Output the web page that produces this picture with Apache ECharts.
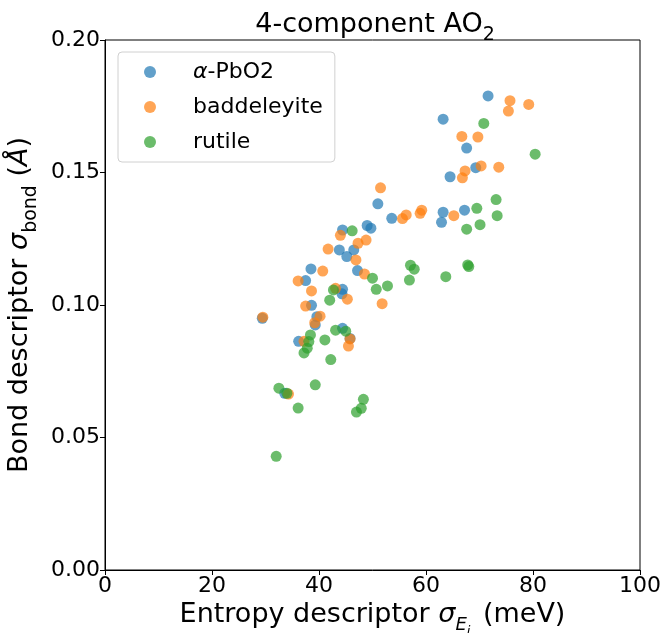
<!DOCTYPE html>
<html>
<head>
<meta charset="utf-8">
<script src="https://cdn.jsdelivr.net/npm/echarts@6/dist/echarts.min.js"></script>
<style>html,body{margin:0;padding:0;background:#fff;}#c{width:663px;height:633px;}</style>
</head>
<body>
<div id="c"></div>
<script>
const seriesNames = ['α-PbO2', 'baddeleyite', 'rutile'];
const xTicks = [0, 20, 40, 60, 80, 100];
const yTicks = [0.00, 0.05, 0.10, 0.15, 0.20];

const pbo2 = [
  [71.6,0.1789],[63.2,0.1701],[67.6,0.1592],[69.3,0.1518],[64.5,0.1484],
  [63.2,0.1350],[62.9,0.1312],[67.2,0.1358],[51.0,0.1382],[53.6,0.1327],
  [49.0,0.1300],[49.7,0.1290],[44.4,0.1283],[43.8,0.1208],[46.5,0.1208],
  [45.2,0.1183],[38.5,0.1136],[47.2,0.1130],[37.5,0.1092],[44.4,0.1059],
  [44.3,0.1042],[38.6,0.0999],[39.6,0.0956],[39.3,0.0925],[29.4,0.0950],
  [44.4,0.0912],[36.2,0.0863],[45.8,0.0874],[33.6,0.0667]
];
const baddeleyite = [
  [75.7,0.1771],[79.2,0.1757],[75.4,0.1732],[66.7,0.1636],[69.7,0.1634],
  [67.3,0.1506],[66.8,0.1480],[70.3,0.1525],[73.6,0.1520],[65.2,0.1337],
  [58.9,0.1346],[59.2,0.1358],[55.6,0.1326],[56.3,0.1340],[51.5,0.1442],
  [44.0,0.1263],[47.3,0.1233],[48.8,0.1245],[41.7,0.1211],[46.9,0.1170],
  [40.7,0.1128],[36.1,0.1091],[48.5,0.1117],[38.6,0.1053],[43.1,0.1063],
  [45.3,0.1022],[51.8,0.1005],[37.5,0.0996],[29.5,0.0954],[40.2,0.0958],
  [39.2,0.0933],[37.2,0.0863],[45.8,0.0872],[45.5,0.0845],[34.3,0.0664]
];
const rutile = [
  [70.8,0.1685],[80.4,0.1569],[73.1,0.1398],[69.5,0.1365],[73.3,0.1337],
  [70.1,0.1303],[67.6,0.1286],[67.8,0.1151],[68.0,0.1145],[63.7,0.1107],
  [46.2,0.1280],[57.1,0.1150],[57.8,0.1135],[56.9,0.1094],[50.0,0.1101],
  [50.7,0.1059],[52.8,0.1072],[42.7,0.1057],[42.0,0.1018],[38.4,0.0887],
  [38.1,0.0862],[37.8,0.0837],[37.2,0.0819],[41.1,0.0868],[43.1,0.0905],
  [45.0,0.0901],[42.2,0.0794],[39.3,0.0699],[32.5,0.0686],[34.0,0.0667],
  [36.1,0.0611],[48.3,0.0644],[47.9,0.0610],[47.0,0.0596],[32.0,0.0429]
];

const colors = ['#1f77b4', '#ff7f0e', '#2ca02c'];
const FONT = 'DejaVu Sans';
const chart = echarts.init(document.getElementById('c'), null, {renderer: 'canvas'});

const mk = (name, data, i) => ({
  name: name, type: 'scatter', data: data, symbol: 'circle', symbolSize: 11,
  itemStyle: {color: colors[i], opacity: 0.7}, z: 2 + i
});

const NS = 27;
chart.setOption({
  animation: false,
  backgroundColor: '#fff',
  textStyle: {fontFamily: FONT},
  title: {
    text: '{m|4-component AO}{s|2}',
    left: 370, top: 1, textAlign: 'center',
    textStyle: {
      fontWeight: 'normal',
      rich: {
        m: {fontFamily: FONT, fontSize: 27, fontWeight: 'normal', color: '#000', verticalAlign: 'bottom', lineHeight: 32},
        s: {fontFamily: FONT, fontSize: 19, fontWeight: 'normal', color: '#000', verticalAlign: 'bottom', lineHeight: 32, padding: [0,0,-7,0]}
      }
    }
  },
  legend: {
    orient: 'vertical', left: 118, top: 52,
    padding: [9, 12, 9, 26],
    itemGap: 13, itemWidth: 12, itemHeight: 12,
    borderColor: '#d0d0d0', borderWidth: 1, borderRadius: 4,
    backgroundColor: 'rgba(255,255,255,0.8)',
    icon: 'circle',
    data: seriesNames,
    formatter: function (n) { return n === 'α-PbO2' ? '{i|α}{t|-PbO2}' : '{t|' + n + '}'; },
    textStyle: {
      fontFamily: FONT, fontSize: 22, color: '#000', lineHeight: 22, padding: [0,0,0,32],
      rich: {
        i: {fontFamily: FONT, fontSize: 22, fontStyle: 'italic', color: '#000'},
        t: {fontFamily: FONT, fontSize: 22, color: '#000'}
      }
    }
  },
  grid: {left: 105, right: 23, top: 40, bottom: 63, containLabel: false, outerBoundsMode: 'none',
         show: true, borderColor: '#000', borderWidth: 1, backgroundColor: 'transparent'},
  xAxis: {
    type: 'value', min: xTicks[0], max: xTicks[xTicks.length-1], interval: 20,
    name: '{t|Entropy descriptor }{g|σ}{e|E}{i|i}{t| (meV)}',
    nameLocation: 'middle', nameGap: 26,
    nameTextStyle: {
      rich: {
        t: {fontFamily: FONT, fontSize: NS, color: '#000', verticalAlign: 'bottom', lineHeight: 32},
        g: {fontFamily: FONT, fontSize: NS, fontStyle: 'italic', color: '#000', verticalAlign: 'bottom', lineHeight: 32},
        e: {fontFamily: FONT, fontSize: 18, fontStyle: 'italic', color: '#000', verticalAlign: 'bottom', lineHeight: 32, padding: [0,0,-5,0]},
        i: {fontFamily: FONT, fontSize: 13, fontStyle: 'italic', color: '#000', verticalAlign: 'bottom', lineHeight: 32, padding: [0,4,-9,0]}
      }
    },
    axisLine: {show: true, lineStyle: {color: '#000', width: 1}},
    axisTick: {show: true, length: 5, lineStyle: {color: '#000'}},
    axisLabel: {fontFamily: FONT, fontSize: 22, color: '#000', margin: 5},
    splitLine: {show: false}
  },
  yAxis: {
    type: 'value', min: yTicks[0], max: yTicks[yTicks.length-1], interval: 0.05,
    name: '{t|Bond descriptor }{g|σ}{s|bond}{t| (}{a|Å}{t|)}',
    nameLocation: 'middle', nameGap: 65, nameRotate: 90,
    nameTextStyle: {
      rich: {
        t: {fontFamily: FONT, fontSize: NS, color: '#000', verticalAlign: 'bottom', lineHeight: 32},
        g: {fontFamily: FONT, fontSize: NS, fontStyle: 'italic', color: '#000', verticalAlign: 'bottom', lineHeight: 32},
        a: {fontFamily: FONT, fontSize: NS, fontStyle: 'italic', color: '#000', verticalAlign: 'bottom', lineHeight: 32},
        s: {fontFamily: FONT, fontSize: 19, color: '#000', verticalAlign: 'bottom', lineHeight: 32, padding: [0,0,-7,0]}
      }
    },
    axisLine: {show: true, lineStyle: {color: '#000', width: 1}},
    axisTick: {show: true, length: 5, lineStyle: {color: '#000'}},
    axisLabel: {fontFamily: FONT, fontSize: 22, color: '#000', margin: 5, formatter: v => v.toFixed(2)},
    splitLine: {show: false}
  },
  series: [mk(seriesNames[0], pbo2, 0), mk(seriesNames[1], baddeleyite, 1), mk(seriesNames[2], rutile, 2)]
});
</script>
</body>
</html>
